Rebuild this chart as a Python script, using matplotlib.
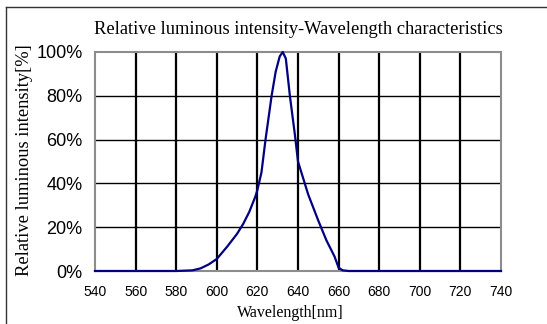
import matplotlib
matplotlib.use('Agg')
import matplotlib.pyplot as plt
from matplotlib.lines import Line2D
from matplotlib.ticker import FuncFormatter

# data
wavelength = [540, 580, 588, 592, 596, 600, 605, 610, 613, 616, 619, 620, 622,
              624, 627, 629, 631, 632.5, 634, 636, 638.5, 640, 642, 645, 650,
              654, 658, 660, 662, 665, 740]
intensity = [0, 0, 0.3, 1.2, 3, 5.5, 11, 17, 21.5, 27, 34, 37, 45,
             60, 80, 91, 98, 100, 97, 80, 62, 50, 44, 35, 23,
             14, 6.6, 1.5, 0.3, 0, 0]
x_ticks = list(range(540, 741, 20))
y_ticks = [0, 20, 40, 60, 80, 100]

serif = 'Liberation Serif'
sans = 'Liberation Sans'

fig = plt.figure(figsize=(5.47, 3.24), dpi=100)
ax = fig.add_axes([95/547, 1 - 271/324, (501-95)/547, (271-52)/324])

ax.set_xlim(540, 740)
ax.set_ylim(0, 100)
ax.set_xticks(x_ticks)
ax.set_yticks(y_ticks)
ax.yaxis.set_major_formatter(FuncFormatter(lambda v, p: '%d%%' % v))

# grid: heavier verticals, thin horizontals
for xv in x_ticks[1:-1]:
    ax.axvline(xv, color='black', lw=1.6, zorder=1)
for yv in y_ticks[1:-1]:
    ax.axhline(yv, color='black', lw=1.0, zorder=1)

ax.plot(wavelength, intensity, color='#000080', lw=1.6, zorder=3, clip_on=False)

for s in ax.spines.values():
    s.set_color('#8c8c8c')
    s.set_linewidth(1.5)

ax.tick_params(length=0)
ax.tick_params(axis='x', pad=10, labelsize=10)
ax.tick_params(axis='y', pad=9, labelsize=13)
for lab in ax.get_xticklabels() + ax.get_yticklabels():
    lab.set_family(sans)

fig.text(298/547, 1 - 29/324, 'Relative luminous intensity-Wavelength characteristics',
         ha='center', va='center', family=serif, fontsize=13.3)
fig.text(25/547, 1 - 160/324, 'Relative luminous intensity[%]', rotation=90,
         ha='center', va='center', family=serif, fontsize=13.3)
fig.text(290/547, 1 - 313/324, 'Wavelength[nm]',
         ha='center', va='center', family=serif, fontsize=11.5)

# outer frame lines (top and left)
fig.add_artist(Line2D([6/547, 1], [1 - 7/324, 1 - 7/324], color='#333333', lw=1.0))
fig.add_artist(Line2D([6/547, 6/547], [0, 1 - 7/324], color='#333333', lw=1.0))

fig.savefig('out.png', dpi=100)
